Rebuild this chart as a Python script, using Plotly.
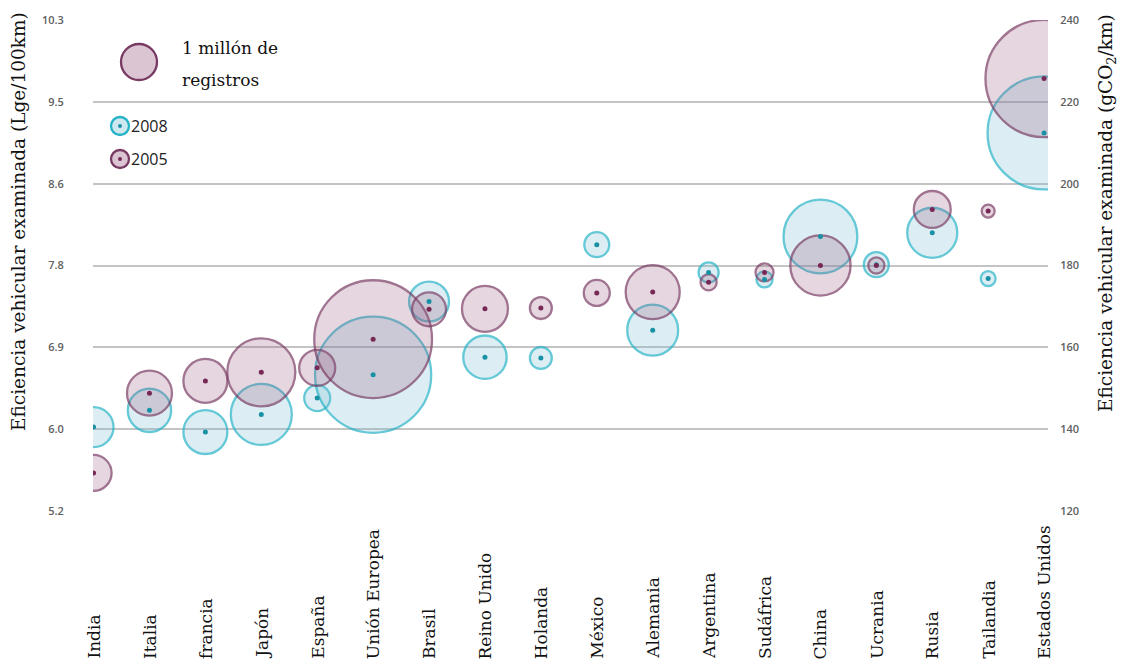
import plotly.graph_objects as go

# ---- data ----
categories = ["India", "Italia", "francia", "Japón", "España", "Unión Europea",
              "Brasil", "Reino Unido", "Holanda", "México", "Alemania", "Argentina",
              "Sudáfrica", "China", "Ucrania", "Rusia", "Tailandia", "Estados Unidos"]

# fleet efficiency in gCO2/km
co2_2005 = [129.3, 148.8, 151.8, 153.9, 155.0, 162.0, 169.3, 169.4, 169.6, 173.3,
            173.5, 175.9, 178.3, 180.0, 180.0, 193.7, 193.3, 225.7]
co2_2008 = [140.5, 144.6, 139.3, 143.6, 147.6, 153.3, 171.2, 157.6, 157.4, 185.1,
            164.2, 178.3, 176.6, 187.1, 180.2, 188.0, 176.8, 212.4]

# registrations, millions
reg_2005 = [1.0, 1.56, 1.49, 3.57, 1.0, 10.7, 0.89, 1.63, 0.37, 0.52,
            2.25, 0.2, 0.25, 2.8, 0.2, 1.05, 0.13, 10.6]
reg_2008 = [1.23, 1.45, 1.49, 2.87, 0.52, 10.4, 1.23, 1.45, 0.37, 0.48,
            2.0, 0.31, 0.2, 4.2, 0.48, 1.93, 0.17, 9.85]

co2_ticks = [120, 140, 160, 180, 200, 220, 240]
lge_ticks = ["5.2", "6.0", "6.9", "7.8", "8.6", "9.5", "10.3"]

# ---- style ----
W, H = 1121, 665
L, R, T, B = 93, 73, 20, 154
PW, PH = W - L - R, H - T - B
REF_R = 18.0                       # px radius of 1 million
SIZEREF = 1.0 / (2 * REF_R ** 2)

BLUE_FILL = "rgba(118,192,212,0.36)"
BLUE_LINE = "rgb(36,178,198)"
BLUE_DOT = "rgb(25,145,165)"
PURP_FILL = "rgba(150,85,125,0.34)"
PURP_LINE = "rgb(120,58,98)"
PURP_DOT = "rgb(120,40,85)"

SERIF = "DejaVu Serif"
SANS = "Open Sans"

xs = list(range(len(categories)))

fig = go.Figure()
fig.add_trace(go.Scatter(
    x=xs, y=co2_2008, mode="markers", name="2008",
    marker=dict(size=reg_2008, sizemode="area", sizeref=SIZEREF,
                color=BLUE_FILL, line=dict(color=BLUE_LINE, width=2.3)),
    cliponaxis=True, hoverinfo="skip"))
fig.add_trace(go.Scatter(
    x=xs, y=co2_2005, mode="markers", name="2005",
    marker=dict(size=reg_2005, sizemode="area", sizeref=SIZEREF,
                color=PURP_FILL, line=dict(color=PURP_LINE, width=2.3)),
    cliponaxis=True, hoverinfo="skip"))
fig.add_trace(go.Scatter(
    x=xs, y=co2_2008, mode="markers", yaxis="y2",
    marker=dict(size=5, color=BLUE_DOT), cliponaxis=True, hoverinfo="skip"))
fig.add_trace(go.Scatter(
    x=xs, y=co2_2005, mode="markers", yaxis="y2",
    marker=dict(size=5, color=PURP_DOT), cliponaxis=True, hoverinfo="skip"))


def px_x(px):
    return (px - L) / PW


def px_y(py):
    return (T + PH - py) / PH


annotations = []
# category labels, bottom aligned, rotated
for i, c in enumerate(categories):
    annotations.append(dict(
        x=i, xref="x", y=px_y(661), yref="paper", text=c, textangle=-90,
        showarrow=False, xanchor="center", yanchor="bottom",
        font=dict(family=SERIF, size=17, color="#111")))

# axis titles
annotations.append(dict(
    x=px_x(18), y=px_y(222), xref="paper", yref="paper",
    text="Eficiencia vehicular examinada (Lge/100km)", textangle=-90,
    showarrow=False, xanchor="center", yanchor="middle",
    font=dict(family=SERIF, size=18.5, color="#111")))
annotations.append(dict(
    x=px_x(1107), y=px_y(213), xref="paper", yref="paper",
    text="Eficiencia vehicular examinada (gCO<sub>2</sub>/km)", textangle=-90,
    showarrow=False, xanchor="center", yanchor="middle",
    font=dict(family=SERIF, size=18.5, color="#111")))

# legend texts
annotations += [
    dict(x=px_x(180), y=px_y(48), xref="paper", yref="paper", text="1 millón de",
         showarrow=False, xanchor="left", yanchor="middle",
         font=dict(family=SERIF, size=17, color="#111")),
    dict(x=px_x(180), y=px_y(80), xref="paper", yref="paper", text="registros",
         showarrow=False, xanchor="left", yanchor="middle",
         font=dict(family=SERIF, size=17, color="#111")),
    dict(x=px_x(129), y=px_y(126), xref="paper", yref="paper", text="2008",
         showarrow=False, xanchor="left", yanchor="middle",
         font=dict(family=SANS, size=16, color="#222")),
    dict(x=px_x(129), y=px_y(159), xref="paper", yref="paper", text="2005",
         showarrow=False, xanchor="left", yanchor="middle",
         font=dict(family=SANS, size=16, color="#222")),
]


def circ(cx, cy, r, fill, line, lw):
    return dict(type="circle", xref="paper", yref="paper",
                xsizemode="pixel", ysizemode="pixel",
                xanchor=px_x(cx), yanchor=px_y(cy),
                x0=-r, x1=r, y0=-r, y1=r,
                fillcolor=fill, line=dict(color=line, width=lw), layer="above")


shapes = [
    circ(139, 62, REF_R, PURP_FILL, PURP_LINE, 2.3),
    circ(120, 126, 9, BLUE_FILL, BLUE_LINE, 2.3),
    circ(120, 126, 2, BLUE_DOT, BLUE_DOT, 0),
    circ(120, 159, 9, PURP_FILL, PURP_LINE, 2.3),
    circ(120, 159, 2, PURP_DOT, PURP_DOT, 0),
]

axis_common = dict(range=[120, 240], tickvals=co2_ticks, showline=False,
                   zeroline=False, ticks="outside", tickcolor="rgba(0,0,0,0)",
                   tickfont=dict(family=SANS, size=11, color="#606060", weight=600))

fig.update_layout(
    width=W, height=H,
    margin=dict(l=L, r=R, t=T, b=B, pad=0),
    paper_bgcolor="white", plot_bgcolor="white",
    showlegend=False,
    xaxis=dict(range=[-0.01, 17.07], showticklabels=False, showgrid=False,
               zeroline=False, showline=False, ticks=""),
    yaxis=dict(**axis_common, ticktext=lge_ticks, ticklen=26,
               showgrid=True, gridcolor="#c4c4c4", gridwidth=2),
    yaxis2=dict(**axis_common, ticktext=[str(v) for v in co2_ticks], ticklen=9,
                overlaying="y", side="right", matches="y", showgrid=False),
    annotations=annotations,
    shapes=shapes,
)

fig.write_html("out.html", config={"displayModeBar": False},
               post_script="document.body.style.margin='0';document.body.style.overflow='hidden';")
